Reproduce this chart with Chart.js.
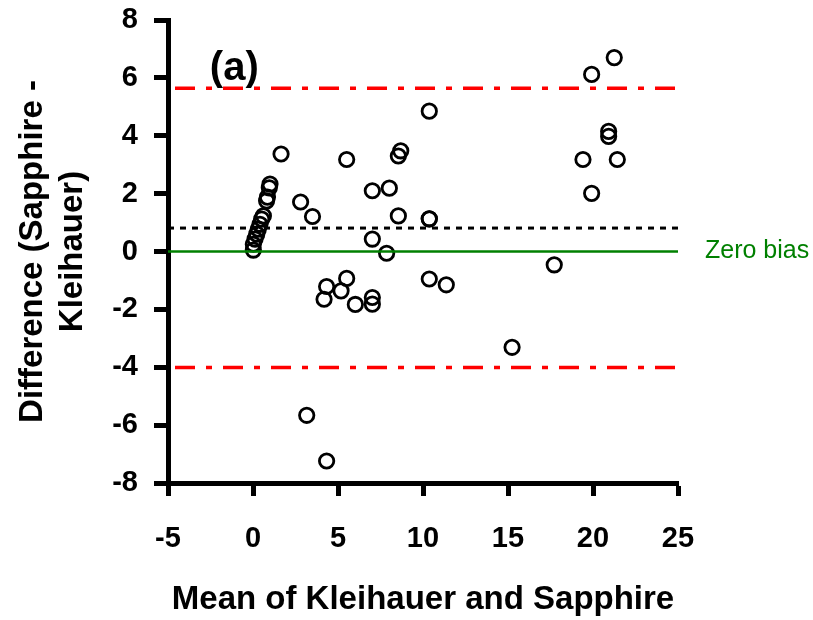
<!DOCTYPE html>
<html>
<head>
<meta charset="utf-8">
<script src="https://cdn.jsdelivr.net/npm/chart.js@4.4.1/dist/chart.umd.min.js"></script>
<style>
  html, body { margin: 0; padding: 0; background: #fff; }
  #wrap { width: 813px; height: 620px; }
</style>
</head>
<body>
<div id="wrap"><canvas id="c" width="813" height="620"></canvas></div>
<script>
// Mean of Kleihauer and Sapphire (x) and Difference (y)
const meanVals = [
  0.02, 0.02, 0.12, 0.22, 0.31, 0.41, 0.51, 0.61,
  0.80, 0.85, 0.96, 1.00,
  1.65, 2.80, 3.50,
  5.51, 8.69, 8.55, 7.02, 8.02, 8.55, 10.37, 7.02, 7.86,
  5.51, 4.33, 5.18, 4.18, 6.02, 7.02, 7.02, 10.37, 11.37,
  10.37, 19.92, 21.25, 20.92, 20.92, 19.41, 21.43, 19.92,
  10.37, 17.72, 15.24, 3.16, 4.33
];
const diffVals = [
  0.05, 0.25, 0.43, 0.60, 0.77, 0.94, 1.12, 1.23,
  1.75, 1.88, 2.20, 2.33,
  3.37, 1.71, 1.21,
  3.18, 3.48, 3.30, 2.10, 2.19, 1.23, 1.13, 0.43, -0.06,
  -0.93, -1.21, -1.36, -1.65, -1.83, -1.59, -1.82, -0.95, -1.15,
  4.85, 6.12, 6.70, 4.15, 3.98, 3.18, 3.18, 2.01,
  1.13, -0.46, -3.31, -5.66, -7.24
];
const xTicks = [-5, 0, 5, 10, 15, 20, 25];
const yTicks = [-8, -6, -4, -2, 0, 2, 4, 6, 8];
const lineSpanX = [-5, 25];
const meanBias = 0.81;
const upperLimit = 5.64;
const lowerLimit = -4.01;
const zeroBias = 0;
const panelLabel = '(a)';
const zeroLabel = 'Zero bias';
const xTitle = 'Mean of Kleihauer and Sapphire';
const yTitle = ['Difference (Sapphire -', 'Kleihauer)'];

const points = meanVals.map((m, i) => ({ x: m, y: diffVals[i] }));
const hline = v => lineSpanX.map(x => ({ x: x, y: v }));

const FONT = "'Liberation Sans', Arial, Helvetica, sans-serif";

const annot = {
  id: 'annot',
  afterDatasetsDraw(chart) {
    const { ctx, chartArea, scales } = chart;
    ctx.save();
    ctx.fillStyle = '#000';
    ctx.font = 'bold 40px ' + FONT;
    ctx.textAlign = 'center';
    ctx.textBaseline = 'middle';
    ctx.fillText(panelLabel, scales.x.getPixelForValue(-1.1), scales.y.getPixelForValue(6.3));
    ctx.fillStyle = '#008000';
    ctx.font = '25px ' + FONT;
    ctx.textAlign = 'left';
    ctx.fillText(zeroLabel, chartArea.right + 27, scales.y.getPixelForValue(zeroBias));
    ctx.restore();
  }
};

new Chart(document.getElementById('c'), {
  type: 'scatter',
  data: {
    datasets: [
      { type: 'line', data: hline(zeroBias), borderColor: '#008000', borderWidth: 2.5, pointRadius: 0, fill: false },
      { type: 'line', data: hline(meanBias), borderColor: '#000', borderWidth: 3, borderDash: [6, 6], pointRadius: 0, fill: false },
      { type: 'line', data: hline(upperLimit), borderColor: '#ff0000', borderWidth: 3.5, borderDash: [20, 11, 6, 11], borderDashOffset: 41, pointRadius: 0, fill: false },
      { type: 'line', data: hline(lowerLimit), borderColor: '#ff0000', borderWidth: 3.5, borderDash: [20, 11, 6, 11], borderDashOffset: 41, pointRadius: 0, fill: false },
      { data: points, pointStyle: 'circle', pointRadius: 7.2, pointBorderWidth: 2.8,
        borderColor: '#000', backgroundColor: 'rgba(0,0,0,0)', pointBackgroundColor: 'rgba(0,0,0,0)', pointBorderColor: '#000' }
    ]
  },
  options: {
    responsive: false,
    animation: false,
    devicePixelRatio: 1,
    layout: { padding: { left: 0, right: 135, top: 20, bottom: 0 } },
    plugins: { legend: { display: false }, tooltip: { enabled: false } },
    scales: {
      x: {
        type: 'linear', position: 'bottom', min: -5, max: 25,
        afterBuildTicks: s => { s.ticks = xTicks.map(v => ({ value: v })); },
        afterFit: s => { s.height = 137; s.paddingLeft = 0; s.paddingRight = 0; },
        ticks: { color: '#000', font: { family: FONT, weight: 'bold', size: 29 }, padding: 26, maxRotation: 0 },
        grid: { drawOnChartArea: false, drawTicks: true, tickLength: 13, tickWidth: 5, tickColor: '#000' },
        border: { display: true, color: '#000', width: 5 },
        title: { display: true, text: xTitle, color: '#000', font: { family: FONT, weight: 'bold', size: 33, lineHeight: 1.2 }, padding: { top: 0, bottom: 0 } }
      },
      y: {
        type: 'linear', position: 'left', min: -8, max: 8,
        afterBuildTicks: s => { s.ticks = yTicks.map(v => ({ value: v })); },
        afterFit: s => { s.width = 168; s.paddingTop = 0; s.paddingBottom = 0; },
        ticks: { color: '#000', font: { family: FONT, weight: 'bold', size: 29 }, padding: 16 },
        grid: { drawOnChartArea: false, drawTicks: true, tickLength: 14, tickWidth: 5, tickColor: '#000' },
        border: { display: true, color: '#000', width: 5 },
        title: { display: true, text: yTitle, color: '#000', font: { family: FONT, weight: 'bold', size: 33, lineHeight: 1.22 }, padding: { top: 13, bottom: 0 } }
      }
    }
  },
  plugins: [annot]
});
</script>
</body>
</html>
